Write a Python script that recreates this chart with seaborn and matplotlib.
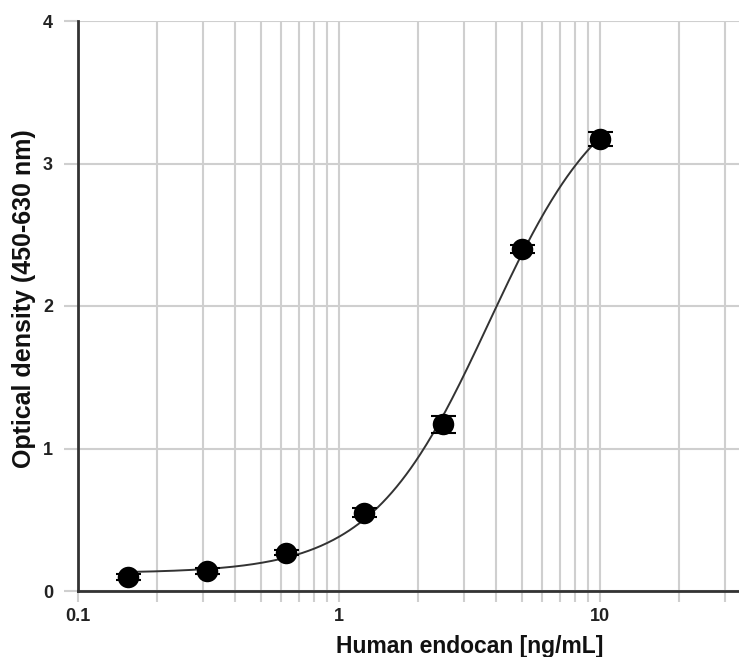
import numpy as np
import pandas as pd
import matplotlib
matplotlib.use("Agg")
import matplotlib.pyplot as plt
import matplotlib.ticker as mticker
import seaborn as sns

# standard curve readings
conc = [0.156, 0.3125, 0.625, 1.25, 2.5, 5.0, 10.0]
od = [0.10, 0.14, 0.27, 0.55, 1.17, 2.40, 3.17]
od_err = [0.02, 0.02, 0.02, 0.03, 0.06, 0.03, 0.05]

x_ticks = [0.1, 1, 10]
x_tick_labels = ["0.1", "1", "10"]
y_ticks = [0, 1, 2, 3, 4]

GRID = "#cfcfcf"
FONT = ["Liberation Sans", "DejaVu Sans"]


def four_pl(x, p):
    a, b, logc, d = p
    return d + (a - d) / (1 + (x / np.exp(logc)) ** b)


def fit_four_pl(x, y, p0, n_iter=200):
    # tiny Levenberg-Marquardt, no scipy needed
    p = np.array(p0, dtype=float)
    lam = 1e-2
    for _ in range(n_iter):
        r = y - four_pl(x, p)
        J = np.empty((len(x), len(p)))
        for k in range(len(p)):
            dp = np.zeros_like(p)
            dp[k] = 1e-6
            J[:, k] = (four_pl(x, p + dp) - four_pl(x, p - dp)) / 2e-6
        A = J.T @ J
        step = np.linalg.solve(A + lam * np.diag(np.diag(A)), J.T @ r)
        if np.sum((y - four_pl(x, p + step)) ** 2) < np.sum(r ** 2):
            p = p + step
            lam *= 0.5
        else:
            lam *= 4
    return p


df = pd.DataFrame({"conc": conc, "od": od, "err": od_err})
params = fit_four_pl(df["conc"].values, df["od"].values, [0.1, 2.0, np.log(4.0), 3.6])
xs = np.logspace(np.log10(conc[0]), np.log10(conc[-1]), 300)
curve = pd.DataFrame({"conc": xs, "od": four_pl(xs, params)})

sns.set_style("white")
plt.rcParams["font.family"] = FONT

fig = plt.figure(figsize=(7.39, 6.57), dpi=100)
ax = fig.add_axes([78 / 739, 1 - 591 / 657, 661 / 739, 570 / 657])

ax.set_xscale("log")
ax.set_xlim(0.1, 34)
ax.set_ylim(0, 4)

sns.lineplot(data=curve, x="conc", y="od", ax=ax, color="#333333", lw=1.4, zorder=3)
ax.errorbar(df["conc"], df["od"], yerr=df["err"], fmt="none", ecolor="black",
            elinewidth=1.5, capsize=9, capthick=1.5, zorder=4)
sns.scatterplot(data=df, x="conc", y="od", ax=ax, color="black", s=240,
                marker="o", edgecolor="black", linewidth=0, zorder=5)

# grid on major + minor decades
ax.xaxis.set_major_locator(mticker.FixedLocator(x_ticks))
ax.xaxis.set_major_formatter(mticker.FixedFormatter(x_tick_labels))
ax.xaxis.set_minor_locator(mticker.LogLocator(base=10, subs=np.arange(2, 10)))
ax.xaxis.set_minor_formatter(mticker.NullFormatter())
ax.set_yticks(y_ticks)
ax.grid(True, which="both", axis="x", color=GRID, lw=1.5)
ax.grid(True, which="major", axis="y", color=GRID, lw=1.5)
ax.set_axisbelow(True)

ax.tick_params(axis="both", which="both", direction="out", color=GRID, width=1.5,
               bottom=True, left=True)
ax.tick_params(axis="x", which="both", length=8, pad=4)
ax.tick_params(axis="y", which="major", length=10, pad=8)
ax.tick_params(axis="both", labelsize=13, labelcolor="#222222")
for lab in ax.get_xticklabels() + ax.get_yticklabels():
    lab.set_fontweight("bold")

for side in ["top", "right"]:
    ax.spines[side].set_visible(False)
for side in ["left", "bottom"]:
    ax.spines[side].set_color("#333333")
    ax.spines[side].set_linewidth(2)

ax.set_xlabel("Human endocan [ng/mL]", fontsize=16.5, fontweight="bold", color="#111111")
ax.set_ylabel("Optical density (450-630 nm)", fontsize=18, fontweight="bold", color="#111111")
ax.xaxis.set_label_coords(0.593, -0.098)
ax.xaxis.label.set_va("center")
ax.yaxis.set_label_coords(-0.081, 0.513)
ax.yaxis.label.set_va("center")

fig.savefig("out.png", dpi=100)
